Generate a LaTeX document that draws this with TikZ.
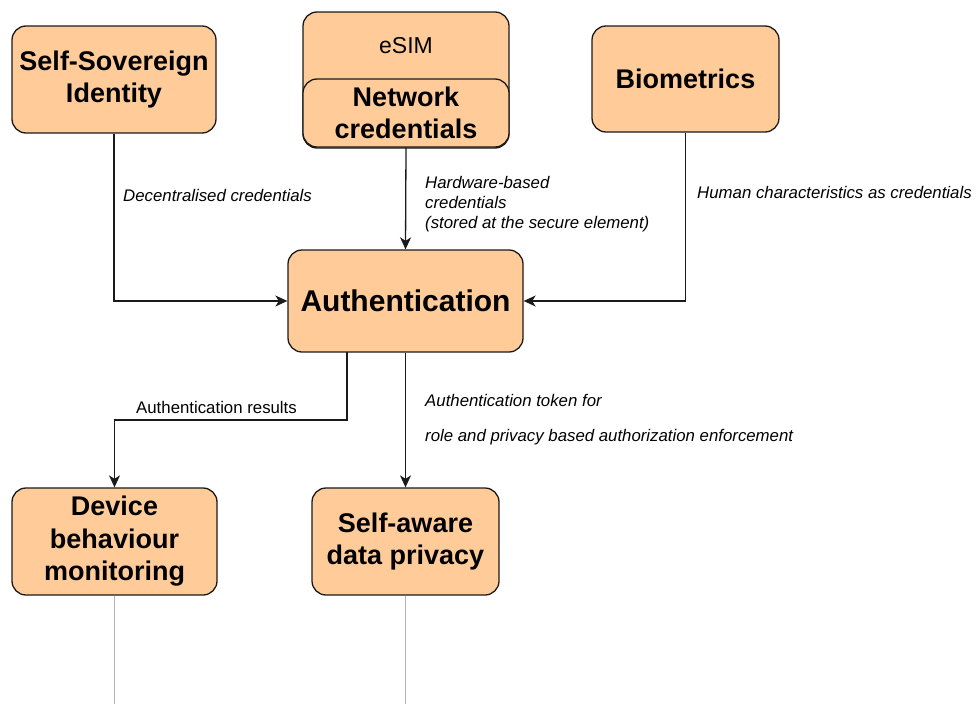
\documentclass[tikz,border=0pt]{standalone}
\usepackage{fontspec}
\setmainfont{Liberation Sans}
\usetikzlibrary{arrows.meta}
\definecolor{boxfill}{HTML}{FFCC99}
\definecolor{boxline}{HTML}{1A1A1A}
\definecolor{tailline}{HTML}{B3B3B3}
\begin{document}
\begin{tikzpicture}[x=1pt,y=-1pt,
  block/.style={draw=boxline,fill=boxfill,line width=1.3pt,rounded corners=14pt,
    inner sep=0pt,align=center,font=\bfseries\fontsize{27}{32.5}\selectfont},
  link/.style={draw=boxline,line width=1.3pt,-{Stealth[length=12pt,width=11pt,inset=3.5pt]}},
  tail/.style={draw=tailline,line width=1pt},
  note/.style={font=\itshape\fontsize{16.8}{20}\selectfont,inner sep=0pt,align=left},
  plain/.style={font=\fontsize{16.8}{20}\selectfont,inner sep=0pt}]
\useasboundingbox (0,0) rectangle (976,704);

% top row
\node[block,minimum width=204pt,minimum height=107pt] (ssi) at (114,79.5)
  {Self-Sovereign\\Identity};
\node[block,minimum width=206pt,minimum height=136pt] (esim) at (406,80) {};
\node[font=\fontsize{23}{27}\selectfont] (esimlbl) at (406,46) {eSIM};
\node[block,minimum width=206pt,minimum height=68pt] (netcred) at (406,113)
  {Network\\credentials};
\node[block,minimum width=187pt,minimum height=106pt] (bio) at (685.5,79)
  {Biometrics};

% centre
\node[block,minimum width=235pt,minimum height=102pt,
  font=\bfseries\fontsize{30}{34}\selectfont] (auth) at (405.5,301) {Authentication};

% bottom row
\node[block,minimum width=205pt,minimum height=107pt] (dev) at (114.5,541.5)
  {Device\\behaviour\\monitoring};
\node[block,minimum width=187pt,minimum height=107pt] (priv) at (405.5,541.5)
  {Self-aware\\data privacy};

% corner points of the elbow connectors
\coordinate (ssiturn) at (ssi.south |- auth.west);
\coordinate (bioturn) at (bio.south |- auth.east);
\coordinate (authout) at (347,352);
\coordinate (devturnA) at (347,420);
\coordinate (devturnB) at (dev.north |- devturnA);
\coordinate (devend) at (dev.south |- 0,704);
\coordinate (privend) at (priv.south |- 0,704);

% connectors
\draw[link] (ssi.south) -- (ssiturn) -- (auth.west);
\draw[link] (netcred.south) -- (auth.north);
\draw[link] (bio.south) -- (bioturn) -- (auth.east);
\draw[link] (authout) -- (devturnA) -- (devturnB) -- (dev.north);
\draw[link] (auth.south) -- (priv.north);
\draw[tail] (dev.south) -- (devend);
\draw[tail] (priv.south) -- (privend);

% connector labels
\node[note,anchor=west] (lblssi) at (123,195) {Decentralised credentials};
\node[note,anchor=north west] (lblhw) at (425,176.5)
  {Hardware-based\\credentials\\(stored at the secure element)};
\node[note,anchor=west] (lblbio) at (697,192) {Human characteristics as credentials};
\node[plain,anchor=west] (lblres) at (136,407) {Authentication results};
\node[note,anchor=west] (lbltok) at (425,400) {Authentication token for};
\node[note,anchor=west] (lblrole) at (425,437)
  {role and privacy based authorization enforcement};
\end{tikzpicture}
\end{document}
